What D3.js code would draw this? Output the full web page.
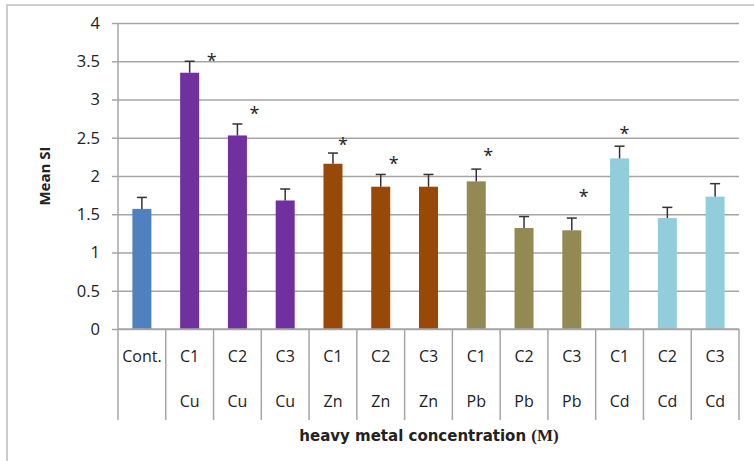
<!DOCTYPE html>
<html>
<head>
<meta charset="utf-8">
<script src="https://cdn.jsdelivr.net/npm/d3@7"></script>
<style>
  html, body { margin: 0; padding: 0; background: #fff; }
  svg { display: block; }
  text { font-family: "Open Sans", "Noto Sans", sans-serif; fill: #222; }
</style>
</head>
<body>
<script>
// Mean SI per treatment with standard errors
const concentrations = ["Cont.", "C1", "C2", "C3", "C1", "C2", "C3", "C1", "C2", "C3", "C1", "C2", "C3"];
const metals = ["", "Cu", "Cu", "Cu", "Zn", "Zn", "Zn", "Pb", "Pb", "Pb", "Cd", "Cd", "Cd"];
const meanSI = [1.57, 3.35, 2.53, 1.68, 2.16, 1.86, 1.86, 1.93, 1.32, 1.29, 2.23, 1.45, 1.73];
const errors = [0.15, 0.15, 0.15, 0.15, 0.14, 0.16, 0.16, 0.16, 0.15, 0.16, 0.16, 0.14, 0.17];
const significant = [false, true, true, false, true, true, false, true, false, true, true, false, false];
const yTicks = [0, 0.5, 1, 1.5, 2, 2.5, 3, 3.5, 4];

// Styling
const metalColors = { "": "#4f81bd", Cu: "#7030a0", Zn: "#984807", Pb: "#938953", Cd: "#92cddc" };
// star placement relative to bar centre / error cap (dx, dy)
const starOffsets = [null, [22, -4], [17, -14], null, [10, -12], [13, -14], null, [12, -17], null, [12, -25], [5, -16], null, null];

const W = 754, H = 461;
const margin = { left: 118, top: 23 };
const plotW = 739 - margin.left;
const plotH = 329 - margin.top;

const svg = d3.select("body").append("svg").attr("width", W).attr("height", H);

// chart frame
svg.append("rect").attr("x", 7).attr("y", 5).attr("width", 800).attr("height", 500)
  .attr("fill", "none").attr("stroke", "#bdbdbd").attr("stroke-width", 1.5);

const idx = d3.range(meanSI.length);
const x = d3.scaleBand().domain(idx).range([margin.left, margin.left + plotW]).paddingInner(0).paddingOuter(0);
const y = d3.scaleLinear().domain([0, 4]).range([margin.top + plotH, margin.top]);

// gridlines + y ticks
const yAxis = d3.axisLeft(y).tickValues(yTicks).tickSize(-plotW - 6).tickPadding(18)
  .tickFormat(d => d3.format("")(d));
const gy = svg.append("g").attr("transform", `translate(${margin.left},0)`).call(yAxis);
gy.select(".domain").remove();
gy.selectAll(".tick line").attr("x1", -6).attr("x2", plotW).attr("stroke", "#a6a6a6").attr("stroke-width", 1.5);
gy.selectAll(".tick text").attr("font-size", 16.5).attr("fill", "#333");

// vertical axis line
svg.append("line").attr("x1", margin.left).attr("x2", margin.left)
  .attr("y1", margin.top).attr("y2", 420).attr("stroke", "#a6a6a6").attr("stroke-width", 1.5);

// bars
svg.append("g").selectAll("rect").data(idx).join("rect")
  .attr("x", i => x(i) + x.bandwidth() / 2 - 9.5)
  .attr("width", 19)
  .attr("y", i => y(meanSI[i]))
  .attr("height", i => y(0) - y(meanSI[i]))
  .attr("fill", i => metalColors[metals[i]]);

// error bars
const eb = svg.append("g").attr("stroke", "#333").attr("stroke-width", 1.5);
eb.selectAll("line.v").data(idx).join("line").attr("class", "v")
  .attr("x1", i => x(i) + x.bandwidth() / 2).attr("x2", i => x(i) + x.bandwidth() / 2)
  .attr("y1", i => y(meanSI[i])).attr("y2", i => y(meanSI[i] + errors[i]));
eb.selectAll("line.c").data(idx).join("line").attr("class", "c")
  .attr("x1", i => x(i) + x.bandwidth() / 2 - 5).attr("x2", i => x(i) + x.bandwidth() / 2 + 5)
  .attr("y1", i => y(meanSI[i] + errors[i])).attr("y2", i => y(meanSI[i] + errors[i]));

// significance stars
svg.append("g").selectAll("text").data(idx.filter(i => significant[i])).join("text")
  .attr("x", i => x(i) + x.bandwidth() / 2 + starOffsets[i][0])
  .attr("y", i => y(meanSI[i] + errors[i]) + starOffsets[i][1] + 10)
  .attr("text-anchor", "middle").attr("font-size", 18).attr("fill", "#111")
  .text("*");

// x axis line
svg.append("line").attr("x1", margin.left).attr("x2", margin.left + plotW)
  .attr("y1", y(0)).attr("y2", y(0)).attr("stroke", "#a6a6a6").attr("stroke-width", 1.5);

// category dividers
svg.append("g").selectAll("line").data(idx.map(i => i + 1)).join("line")
  .attr("x1", i => x.range()[0] + i * x.step()).attr("x2", i => x.range()[0] + i * x.step())
  .attr("y1", y(0)).attr("y2", 420).attr("stroke", "#a6a6a6").attr("stroke-width", 1.5);

// category labels (two rows)
svg.append("g").selectAll("text").data(idx).join("text")
  .attr("x", i => x(i) + x.bandwidth() / 2).attr("y", 362)
  .attr("text-anchor", "middle").attr("font-size", 16).attr("fill", "#333")
  .text(i => concentrations[i]);
svg.append("g").selectAll("text").data(idx).join("text")
  .attr("x", i => x(i) + x.bandwidth() / 2).attr("y", 407)
  .attr("text-anchor", "middle").attr("font-size", 16).attr("fill", "#333")
  .text(i => metals[i]);

// axis titles
svg.append("text").attr("transform", "translate(50,176) rotate(-90)")
  .attr("text-anchor", "middle").attr("font-size", 15).attr("font-weight", "bold")
  .text("Mean SI");
const xt = svg.append("text").attr("x", 429).attr("y", 441)
  .attr("text-anchor", "middle").attr("font-size", 15).attr("font-weight", "bold")
  .style("font-family", "'DejaVu Sans', sans-serif");
xt.append("tspan").text("heavy metal concentration ");
xt.append("tspan").attr("font-family", "Liberation Serif, serif").style("font-family", "'Liberation Serif', serif")
  .attr("font-size", 17).text("(M)");
</script>
</body>
</html>
